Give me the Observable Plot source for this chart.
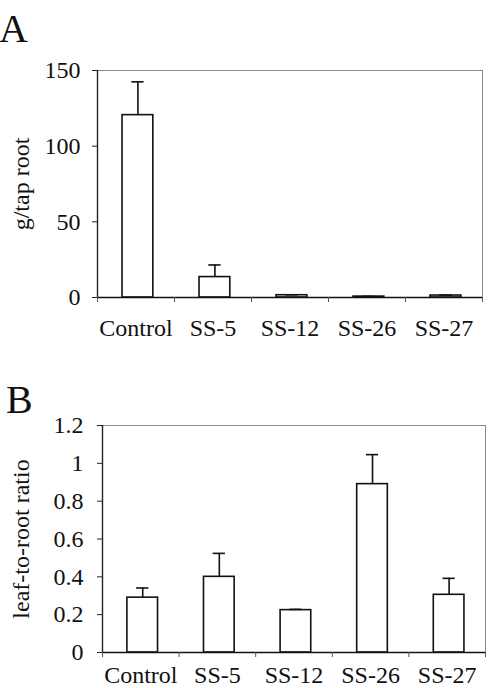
<!DOCTYPE html>
<html>
<head>
<meta charset="utf-8">
<script src="https://cdn.jsdelivr.net/npm/d3@7"></script>
<script src="https://cdn.jsdelivr.net/npm/@observablehq/plot@0.6"></script>
<style>
  html, body { margin: 0; padding: 0; background: #fff; }
  #wrap { position: relative; width: 490px; height: 688px; overflow: hidden; font-family: "Liberation Serif", serif; }
  .panel { position: absolute; left: 0; z-index: 1; }
  .letter { position: absolute; z-index: 2; font-family: "Liberation Serif", serif; font-size: 40px; color: #111; line-height: 1; }
  #wrap svg, #wrap svg text { font-family: "Liberation Serif", serif !important; }
</style>
</head>
<body>
<div id="wrap">
  <div class="panel" id="pa" style="top:0px;"></div>
  <div class="panel" id="pb" style="top:345px;"></div>
  <div class="letter" id="la" style="left:-1px; top:9px;">A</div>
  <div class="letter" id="lb" style="left:6px; top:380px;">B</div>
</div>
<script>
// ---- data ----
const categories = ["Control", "SS-5", "SS-12", "SS-26", "SS-27"];
// Panel A: g/tap root
const rootMass = [120.5, 13.5, 1.5, 0.6, 1.3];
const rootMassUpper = [142.5, 21.5, 1.8, 0.7, 1.6];
const ticksA = [0, 50, 100, 150];
const labelA = "g/tap root";
// Panel B: leaf-to-root ratio
const ratio = [0.29, 0.40, 0.224, 0.89, 0.305];
const ratioUpper = [0.341, 0.524, 0.228, 1.046, 0.392];
const ticksB = [0, 0.2, 0.4, 0.6, 0.8, 1, 1.2];
const labelB = "leaf-to-root ratio";

const FONT = "'Liberation Serif', serif";
const idx = categories.map((_, i) => i);
const bounds = d3.range(categories.length + 1);
const HALF = 0.2, CAP = 0.08, SHIFT = 0.025;

function panel({values, uppers, ticks, label, yMax, margins, height, labelPad, xLabelPad}) {
  const rows = idx.map(i => ({i, cat: categories[i], v: values[i], u: uppers[i]}));
  return Plot.plot({
    width: 490,
    height,
    ...margins,
    style: {fontFamily: FONT, fontSize: "24px", color: "#111", background: "white"},
    x: {type: "linear", domain: [0, categories.length]},
    y: {domain: [0, yMax]},
    marks: [
      Plot.frame({stroke: "#8a8a8a", strokeWidth: 1}),
      Plot.rectY(rows, {x1: d => d.i + 0.5 - HALF + SHIFT, x2: d => d.i + 0.5 + HALF + SHIFT, y1: 0, y2: "v", fill: "white", stroke: "#111", strokeWidth: 1.6}),
      Plot.ruleX(rows, {x: d => d.i + 0.5 + SHIFT, y1: "v", y2: "u", stroke: "#111", strokeWidth: 1.6}),
      Plot.ruleY(rows, {x1: d => d.i + 0.5 + SHIFT - CAP, x2: d => d.i + 0.5 + SHIFT + CAP, y: "u", stroke: "#111", strokeWidth: 1.6}),
      Plot.ruleY([0], {stroke: "#111", strokeWidth: 1.6}),
      Plot.ruleX([0], {stroke: "#222", strokeWidth: 1.4}),
      Plot.axisY({ticks, tickSize: 5, tickPadding: labelPad, tickFormat: d3.format("~g"), label: null, stroke: "#222", fontSize: 24, fontFamily: FONT}),
      Plot.axisX({ticks: bounds, tickSize: 5, tickFormat: () => "", label: null, stroke: "#555"}),
      Plot.axisX({ticks: idx.map(i => i + 0.5), tickSize: 0, tickPadding: xLabelPad, tickFormat: d => categories[Math.floor(d)], label: null, fontSize: 24, fontFamily: FONT}),
      Plot.text([label], {frameAnchor: "left", dx: -(margins.marginLeft - 21), rotate: -90, textAnchor: "middle", fontSize: 24, fontFamily: FONT, fill: "#111"})
    ]
  });
}

document.getElementById("pa").append(panel({
  values: rootMass, uppers: rootMassUpper, ticks: ticksA, label: labelA, yMax: 150,
  margins: {marginTop: 70, marginBottom: 48, marginLeft: 97, marginRight: 8},
  height: 345, labelPad: 12, xLabelPad: 21
}));
document.getElementById("pb").append(panel({
  values: ratio, uppers: ratioUpper, ticks: ticksB, label: labelB, yMax: 1.2,
  margins: {marginTop: 80, marginBottom: 36, marginLeft: 102, marginRight: 5},
  height: 343, labelPad: 14, xLabelPad: 13
}));
</script>
</body>
</html>
